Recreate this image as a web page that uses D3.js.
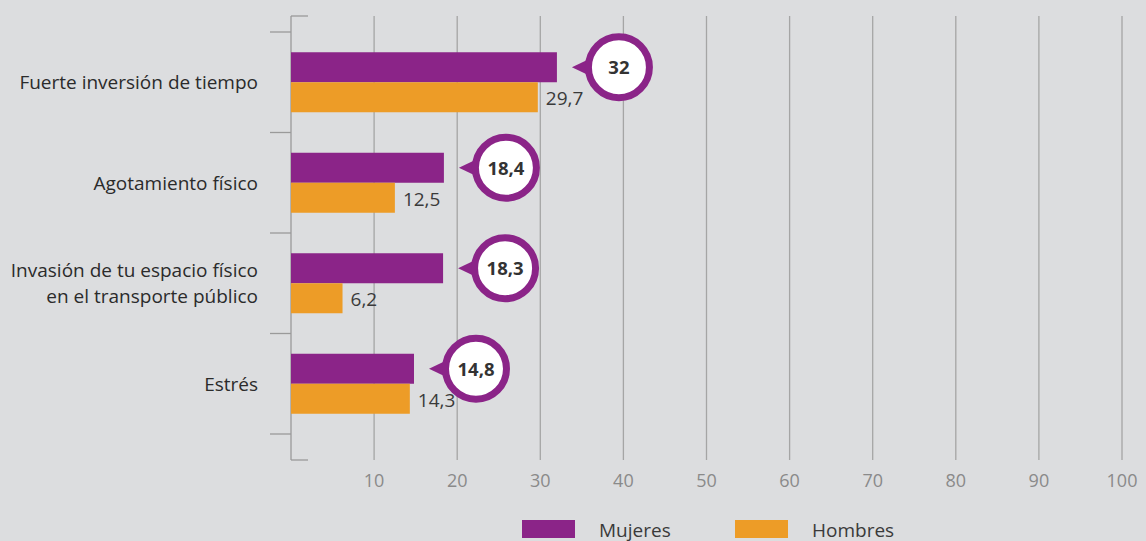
<!DOCTYPE html>
<html>
<head>
<meta charset="utf-8">
<script src="https://cdn.jsdelivr.net/npm/d3@7"></script>
<style>
  body { margin: 0; background: #dcdddf; }
  svg { display: block; font-family: "Open Sans", sans-serif; }
</style>
</head>
<body>
<div id="chart"></div>
<script>
// data
var categories = ["Fuerte inversión de tiempo", "Agotamiento físico", "Invasión de tu espacio físico|en el transporte público", "Estrés"];
var mujeres = [32, 18.4, 18.3, 14.8];
var hombres = [29.7, 12.5, 6.2, 14.3];
var xTicks = [10, 20, 30, 40, 50, 60, 70, 80, 90, 100];
var series = ["Mujeres", "Hombres"];
var colors = ["#8b2488", "#ed9c27"];

var svgWidth = 1146, svgHeight = 541;
var fmt = function(v) { return String(v).replace(".", ","); };

var svg = d3.select("#chart").append("svg")
  .attr("width", svgWidth)
  .attr("height", svgHeight);

var xScale = d3.scaleLinear().domain([0, 100]).range([291, 1122]);
var yScale = d3.scaleBand().domain(categories).range([32, 434]).padding(0);
var barH = 30;
var axisTop = 16, axisBottom = 460;

// grid lines
svg.append("g").selectAll("line")
  .data(xTicks).enter().append("line")
  .attr("x1", d => xScale(d)).attr("x2", d => xScale(d))
  .attr("y1", axisTop).attr("y2", axisBottom)
  .attr("stroke", "#a5a5a5").attr("stroke-width", 1.3);

// tick labels
svg.append("g").selectAll("text")
  .data(xTicks).enter().append("text")
  .attr("x", d => xScale(d)).attr("y", 487)
  .attr("text-anchor", "middle")
  .attr("font-size", 18).attr("fill", "#8a8a8a")
  .text(d => d);

// y axis
var axisG = svg.append("g").attr("stroke", "#9a9a9a").attr("stroke-width", 1.3);
axisG.append("line").attr("x1", 291).attr("x2", 291).attr("y1", axisTop).attr("y2", axisBottom);
axisG.append("line").attr("x1", 291).attr("x2", 308).attr("y1", axisTop).attr("y2", axisTop);
axisG.append("line").attr("x1", 291).attr("x2", 308).attr("y1", axisBottom).attr("y2", axisBottom);
var bounds = categories.map(c => yScale(c)).concat([yScale.range()[1]]);
axisG.selectAll(".tk").data(bounds).enter().append("line")
  .attr("x1", 270).attr("x2", 291)
  .attr("y1", d => d).attr("y2", d => d);

// category labels
categories.forEach(function(c) {
  var lines = c.split("|");
  var cy = yScale(c) + yScale.bandwidth() / 2;
  var t = svg.append("text")
    .attr("x", 258)
    .attr("text-anchor", "end")
    .attr("font-size", 19).attr("fill", "#2b2b2b");
  lines.forEach(function(l, i) {
    t.append("tspan")
      .attr("x", 258)
      .attr("y", cy + 7 + (i - (lines.length - 1) / 2) * 26)
      .text(l);
  });
});

// bars
var rows = categories.map((c, i) => ({ cat: c, m: mujeres[i], h: hombres[i] }));

svg.append("g").selectAll("rect.m").data(rows).enter().append("rect")
  .attr("x", xScale(0))
  .attr("y", d => yScale(d.cat) + yScale.bandwidth() / 2 - barH)
  .attr("width", d => xScale(d.m) - xScale(0))
  .attr("height", barH)
  .attr("fill", colors[0]);

svg.append("g").selectAll("rect.h").data(rows).enter().append("rect")
  .attr("x", xScale(0))
  .attr("y", d => yScale(d.cat) + yScale.bandwidth() / 2)
  .attr("width", d => xScale(d.h) - xScale(0))
  .attr("height", barH)
  .attr("fill", colors[1]);

// hombres value labels
svg.append("g").selectAll("text").data(rows).enter().append("text")
  .attr("x", d => xScale(d.h) + 8)
  .attr("y", d => yScale(d.cat) + yScale.bandwidth() / 2 + 23)
  .attr("font-size", 19).attr("fill", "#3a3a3a")
  .text(d => fmt(d.h));

// mujeres callouts
var callouts = svg.append("g").selectAll("g").data(rows).enter().append("g")
  .attr("transform", d => `translate(${xScale(d.m)}, ${yScale(d.cat) + yScale.bandwidth() / 2 - barH / 2})`);

callouts.append("path")
  .attr("d", "M15,0 L36,-10 L36,10 Z")
  .attr("fill", colors[0]);

callouts.append("circle")
  .attr("cx", 62).attr("cy", 0).attr("r", 30.5)
  .attr("fill", "#fff")
  .attr("stroke", colors[0]).attr("stroke-width", 7);

callouts.append("text")
  .attr("x", 62).attr("y", 7)
  .attr("text-anchor", "middle")
  .attr("font-size", 18.5).attr("font-weight", "bold").attr("fill", "#333")
  .text(d => fmt(d.m));

// legend
var legend = svg.append("g");
var legX = [522, 735];
series.forEach(function(s, i) {
  legend.append("rect")
    .attr("x", legX[i]).attr("y", 520)
    .attr("width", 53).attr("height", 18)
    .attr("fill", colors[i]);
  legend.append("text")
    .attr("x", legX[i] + 77).attr("y", 537)
    .attr("font-size", 19).attr("fill", "#3a3a3a")
    .text(s);
});
</script>
</body>
</html>
